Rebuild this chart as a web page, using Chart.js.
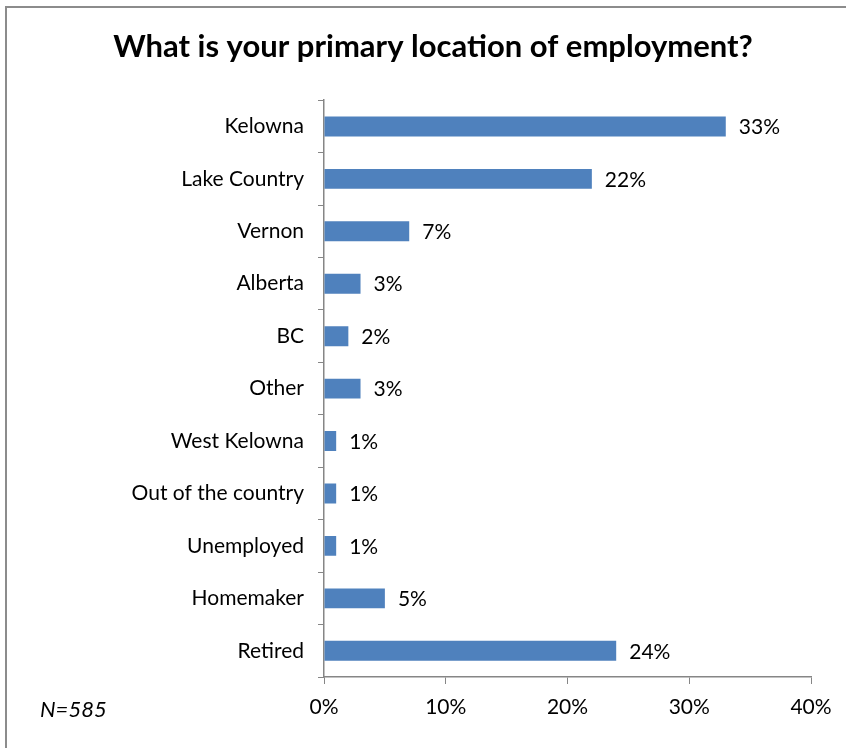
<!DOCTYPE html>
<html>
<head>
<meta charset="utf-8">
<script src="https://cdn.jsdelivr.net/npm/chart.js@4/dist/chart.umd.min.js"></script>
<style>
  html, body { margin: 0; padding: 0; background: #fff; }
  #wrap { position: relative; width: 846px; height: 748px; overflow: hidden; }
  #frame { position: absolute; left: 5px; top: 6px; width: 900px; height: 800px;
           border-left: 2px solid #8c8c8c; border-top: 2px solid #8c8c8c; pointer-events: none; }
</style>
</head>
<body>
<div id="wrap">
  <canvas id="chart" width="846" height="748"></canvas>
  <div id="frame"></div>
</div>
<script>
// survey answers, share of respondents (%)
const categories = ['Kelowna', 'Lake Country', 'Vernon', 'Alberta', 'BC', 'Other',
  'West Kelowna', 'Out of the country', 'Unemployed', 'Homemaker', 'Retired'];
const shares = [33, 22, 7, 3, 2, 3, 1, 1, 1, 5, 24];
const xTicks = [0, 10, 20, 30, 40];
const title = 'What is your primary location of employment?';
const note = 'N=585';

const FONT = 'Lato, "Open Sans", sans-serif';
const AXIS = '#868686';

// value labels next to each bar + the N note
const extras = {
  id: 'extras',
  afterDatasetsDraw(chart) {
    const ctx = chart.ctx;
    const meta = chart.getDatasetMeta(0);
    ctx.save();
    ctx.fillStyle = '#000';
    ctx.font = '21px ' + FONT;
    ctx.textAlign = 'left';
    ctx.textBaseline = 'middle';
    meta.data.forEach((bar, i) => {
      ctx.fillText(shares[i] + '%', bar.x + 13, bar.y + 1);
    });
    ctx.font = 'italic 22px ' + FONT;
    ctx.fillText(note, 40, chart.chartArea.bottom + 33);
    ctx.restore();
  }
};

new Chart(document.getElementById('chart'), {
  type: 'bar',
  data: {
    labels: categories,
    datasets: [{
      data: shares,
      backgroundColor: '#4f81bd',
      borderWidth: 0,
      categoryPercentage: 1,
      barPercentage: 0.38,
    }],
  },
  options: {
    indexAxis: 'y',
    responsive: false,
    animation: false,
    layout: { padding: { left: 55, right: 35, top: 10, bottom: 11 } },
    plugins: {
      legend: { display: false },
      tooltip: { enabled: false },
      title: {
        display: true, text: title, color: '#000',
        font: { family: FONT, size: 31, weight: 'bold', lineHeight: 1.2 },
        padding: { top: 18, bottom: 35 },
      },
    },
    scales: {
      x: {
        min: 0, max: 40,
        afterBuildTicks: s => { s.ticks = xTicks.map(v => ({ value: v })); },
        ticks: { color: '#000', font: { family: FONT, size: 21 }, padding: 11,
                 callback: v => v + '%' },
        grid: { drawOnChartArea: false, drawTicks: true, tickLength: 7, color: AXIS },
        border: { color: AXIS, width: 1.5 },
        afterFit: s => { s.height = 60; },
      },
      y: {
        ticks: { color: '#000', font: { family: FONT, size: 21 }, padding: 14 },
        grid: { drawOnChartArea: false, drawTicks: true, tickLength: 6, color: AXIS, offset: true },
        border: { color: AXIS, width: 1.5 },
        afterFit: s => { s.width = 269; },
      },
    },
  },
  plugins: [extras],
});
</script>
</body>
</html>
